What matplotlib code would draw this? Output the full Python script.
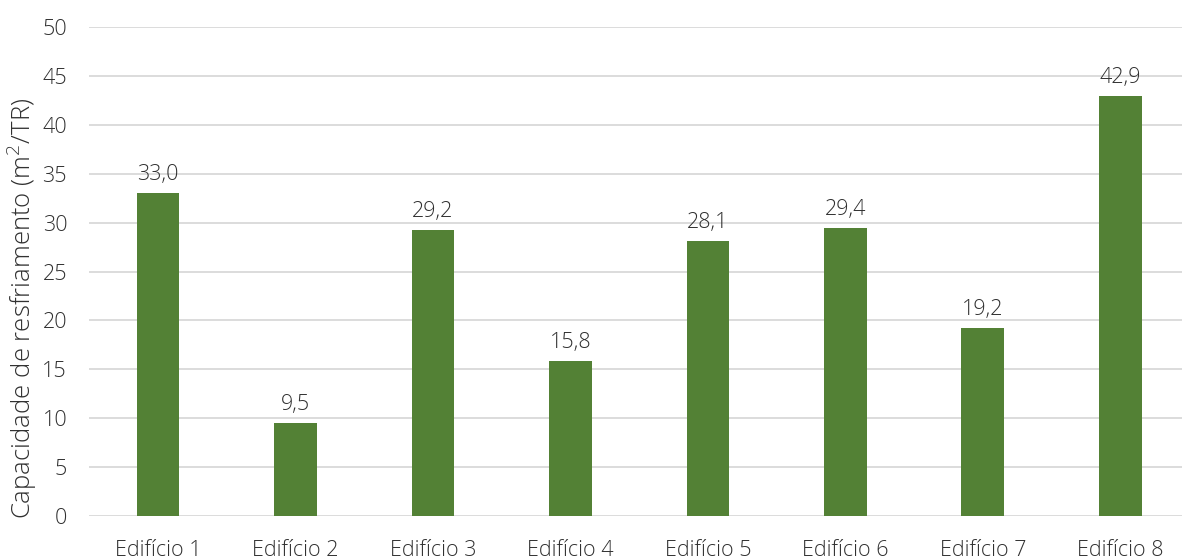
import matplotlib.pyplot as plt

# Data
buildings = ['Edifício 1', 'Edifício 2', 'Edifício 3', 'Edifício 4',
             'Edifício 5', 'Edifício 6', 'Edifício 7', 'Edifício 8']
capacity = [33.0, 9.5, 29.2, 15.8, 28.1, 29.4, 19.2, 42.9]
y_ticks = [0, 5, 10, 15, 20, 25, 30, 35, 40, 45, 50]

bar_color = '#538135'
text_color = '#303030'
grid_color = '#d9d9d9'

plt.rcParams['font.family'] = ['Open Sans', 'DejaVu Sans']
plt.rcParams['font.weight'] = 'light'

fig = plt.figure(figsize=(11.82, 5.6), dpi=100)
W, H = 1182, 560
ax = fig.add_axes([89.3 / W, 44 / H, 1099.7 / W, 489 / H])

x = range(len(buildings))
ax.bar(x, capacity, width=0.31, color=bar_color, zorder=3)

# value labels above the bars
for xi, v in zip(x, capacity):
    ax.annotate(f'{v:.1f}'.replace('.', ','), (xi, v), xytext=(0, 6),
                textcoords='offset points', ha='center', va='bottom',
                fontsize=15.5, color=text_color)

ax.set_xlim(-0.5, 7.5)
ax.set_ylim(0, 50)
ax.set_yticks(y_ticks)
ax.set_xticks(list(x))
ax.set_xticklabels(buildings)
ax.tick_params(axis='both', length=0, labelsize=15.5, labelcolor=text_color)
ax.tick_params(axis='y', pad=16)
ax.tick_params(axis='x', pad=17)

ax.grid(axis='y', color=grid_color, linewidth=1.3, zorder=0)
for s in ax.spines.values():
    s.set_visible(False)

fig.text(22 / W, 1 - 308 / H, 'Capacidade de resfriamento (m$^2$/TR)',
         rotation=90, ha='center', va='center', fontsize=18.5, color=text_color)

fig.savefig('out.png', dpi=100)
